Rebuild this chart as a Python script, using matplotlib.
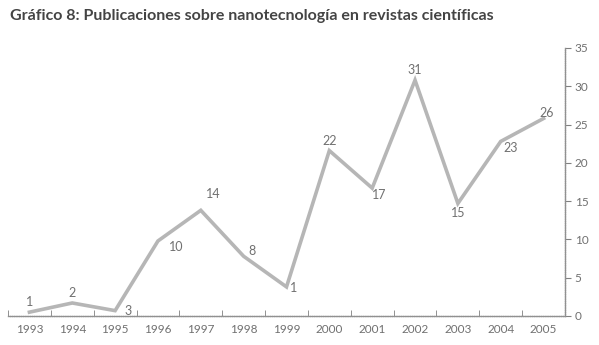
import numpy as np
import matplotlib.pyplot as plt

years = ['1993', '1994', '1995', '1996', '1997', '1998', '1999',
         '2000', '2001', '2002', '2003', '2004', '2005']
# posición de la línea
values = [0.5, 1.7, 0.7, 9.8, 13.8, 7.8, 3.8, 21.6, 16.7, 30.8, 14.7, 22.8, 25.8]
# etiquetas tal como aparecen en el original
labels = ['1', '2', '3', '10', '14', '8', '1', '22', '17', '31', '15', '23', '26']

# desplazamiento de cada etiqueta (puntos)
offsets = [(0, 7), (0, 7), (9, 0), (13, -4), (9, 12), (6, 4), (5, -1),
           (0, 7), (5, -5), (0, 7), (0, -7), (7, -5), (2, 4)]

plt.rcParams['font.family'] = ['Lato', 'DejaVu Sans']

fig = plt.figure(figsize=(5.99, 3.45), dpi=100)
ax = fig.add_axes([8/599, 1 - 316/345, 557/599, 268/345])

x = np.arange(len(years))
ax.plot(x, values, color='#b6b6b6', lw=2.6, solid_joinstyle='miter')
for xi, v, lab, off in zip(x, values, labels, offsets):
    ax.annotate(lab, (xi, v), xytext=off, textcoords='offset points',
                ha='center', va='center', fontsize=9, color='#707070')

ax.set_xlim(-0.5, len(years) - 0.5)
ax.set_ylim(0, 35)
ax.set_xticks(x)
ax.set_xticklabels(years, fontsize=8.5, color='#707070')
ax.set_xticks(np.arange(-0.5, len(years)), minor=True)
ax.tick_params(axis='x', which='major', length=0, pad=6)
ax.tick_params(axis='x', which='minor', length=4, direction='in', color='#808080')

ax.yaxis.tick_right()
ax.set_yticks(range(0, 36, 5))
ax.tick_params(axis='y', length=4, color='#808080', labelsize=8.5,
               labelcolor='#707070', pad=3)

for s in ['left', 'top']:
    ax.spines[s].set_visible(False)
for s in ['right', 'bottom']:
    ax.spines[s].set_color('#909090')
    ax.spines[s].set_linestyle((0, (1, 0.6)))
    ax.spines[s].set_linewidth(1)

fig.text(10/599, 1 - 16/345, 'Gráfico 8: Publicaciones sobre nanotecnología en revistas científicas',
         fontsize=11.5, fontweight='bold', color='#444444', va='center')

plt.savefig('out.png', dpi=100)
